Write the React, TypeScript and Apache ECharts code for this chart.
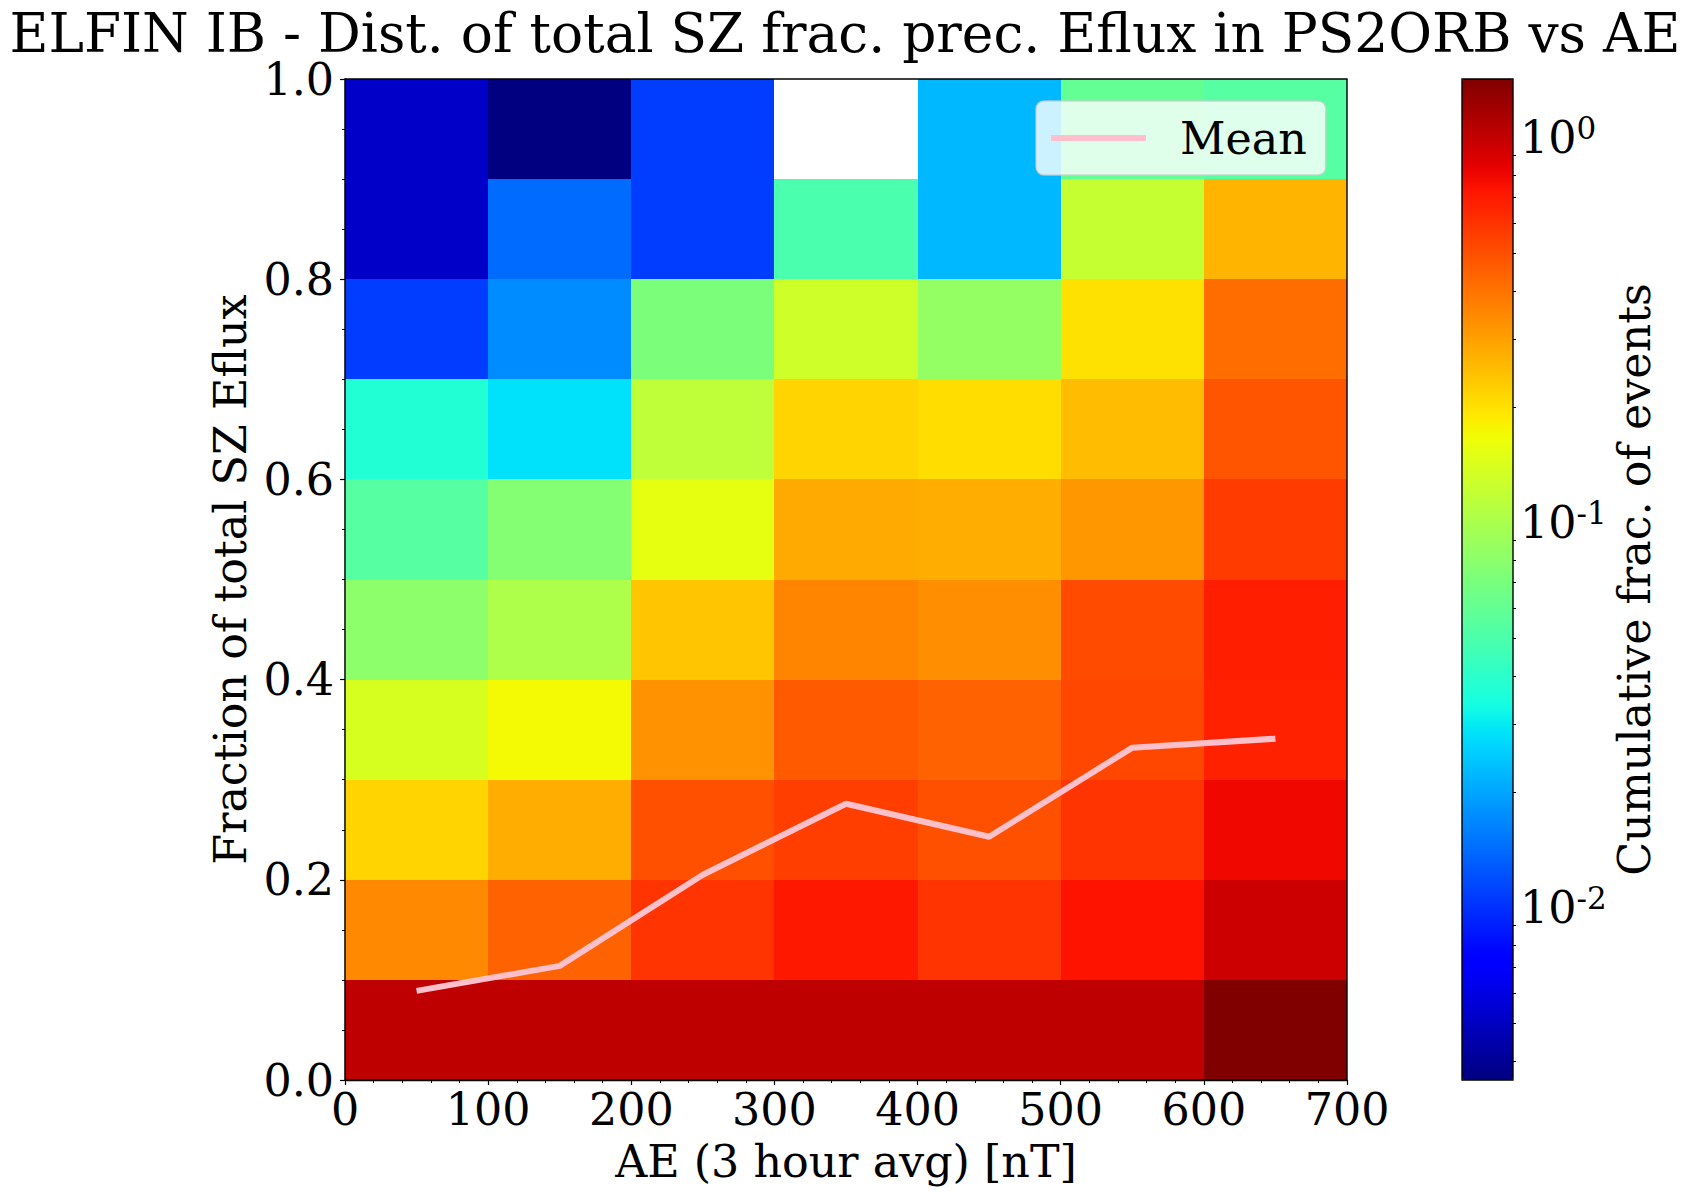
import React, { useRef, useEffect } from 'react'
import * as echarts from 'echarts'

const FONT = '"DejaVu Serif", serif'

// bin edges of the 2D histogram
const aeEdges = [0, 100, 200, 300, 400, 500, 600, 700]
const fracEdges = [0, 0.1, 0.2, 0.3, 0.4, 0.5, 0.6, 0.7, 0.8, 0.9, 1.0]

// cumulative fraction per AE bin, one array per fraction bin (null = no data)
const row00 = [1.03, 1.03, 1.03, 1.03, 1.03, 1.03, 1.42]
const row01 = [0.348, 0.443, 0.597, 0.714, 0.597, 0.736, 0.953]
const row02 = [0.216, 0.274, 0.499, 0.562, 0.499, 0.597, 0.796]
const row03 = [0.138, 0.17, 0.328, 0.47, 0.443, 0.53, 0.673]
const row04 = [0.0804, 0.102, 0.236, 0.359, 0.338, 0.514, 0.681]
const row05 = [0.0538, 0.0757, 0.155, 0.282, 0.274, 0.318, 0.569]
const row06 = [0.0369, 0.0282, 0.115, 0.216, 0.205, 0.251, 0.484]
const row07 = [0.01075, 0.01714, 0.0713, 0.13, 0.0853, 0.1995, 0.414]
const row08 = [0.0052, 0.01416, 0.01075, 0.0498, 0.0222, 0.122, 0.266]
const row09 = [0.0052, 0.00357, 0.01075, null, 0.0222, 0.0596, 0.0538]
const rows = [row00, row01, row02, row03, row04, row05, row06, row07, row08, row09]

// mean line
const meanAE = [50, 150, 250, 350, 450, 550, 650]
const meanFrac = [0.089, 0.114, 0.205, 0.276, 0.243, 0.332, 0.341]

// colorbar
const cbarMin = 0.00357
const cbarMax = 1.42
const cbarMajor = [0.01, 0.1, 1]
const cbarMinor = [
  0.004, 0.005, 0.006, 0.007, 0.008, 0.009,
  0.02, 0.03, 0.04, 0.05, 0.06, 0.07, 0.08, 0.09,
  0.2, 0.3, 0.4, 0.5, 0.6, 0.7, 0.8, 0.9,
]

// matplotlib jet segments
const seg = (t: number, pts: number[][]) => {
  for (let i = 1; i < pts.length; i++) {
    if (t <= pts[i][0]) {
      const [x0, y0] = pts[i - 1]
      const [x1, y1] = pts[i]
      return y0 + ((t - x0) / (x1 - x0)) * (y1 - y0)
    }
  }
  return pts[pts.length - 1][1]
}
const jet = (t: number) => {
  const r = seg(t, [[0, 0], [0.35, 0], [0.66, 1], [0.89, 1], [1, 0.5]])
  const g = seg(t, [[0, 0], [0.125, 0], [0.375, 1], [0.64, 1], [0.91, 0], [1, 0]])
  const b = seg(t, [[0, 0.5], [0.11, 1], [0.34, 1], [0.65, 0], [1, 0]])
  return `rgb(${Math.round(r * 255)},${Math.round(g * 255)},${Math.round(b * 255)})`
}
const jetColors = Array.from({ length: 129 }, (_, i) => jet(i / 128))

const App: React.FC = () => {
  const chartRef = useRef<HTMLDivElement>(null)

  useEffect(() => {
    if (!chartRef.current) return
    const chart = echarts.init(chartRef.current, undefined, { renderer: 'svg' })

    const cells: number[][] = []
    rows.forEach((row, j) => {
      row.forEach((v, i) => {
        if (v == null) return
        cells.push([aeEdges[i], aeEdges[i + 1], fracEdges[j], fracEdges[j + 1], v, Math.log10(v)])
      })
    })

    const logMin = Math.log10(cbarMin)
    const logMax = Math.log10(cbarMax)

    const option = {
      animation: false,
      backgroundColor: '#fff',
      textStyle: { fontFamily: FONT, color: '#000' },
      title: {
        text: 'ELFIN IB - Dist. of total SZ frac. prec. Eflux in PS2ORB vs AE',
        left: 840,
        top: 2,
        textAlign: 'center',
        textStyle: { fontFamily: FONT, fontSize: 53.4, fontWeight: 'normal', color: '#000' },
      },
      grid: [
        { left: 345, top: 79, width: 1002, height: 1001, outerBoundsMode: 'none', show: true, borderColor: '#000', borderWidth: 1.4, backgroundColor: 'transparent', z: 5 },
        { left: 1462, top: 79, width: 51, height: 1001, outerBoundsMode: 'none', show: true, borderColor: '#000', borderWidth: 1.4, backgroundColor: 'transparent', z: 5 },
      ],
      xAxis: [
        {
          type: 'value',
          gridIndex: 0,
          min: 0,
          max: 700,
          interval: 100,
          name: 'AE (3 hour avg) [nT]',
          nameLocation: 'middle',
          nameGap: 59,
          nameTextStyle: { fontFamily: FONT, fontSize: 44.4, color: '#000' },
          axisLine: { lineStyle: { color: '#000', width: 1.4 } },
          axisTick: { length: 5, lineStyle: { color: '#000', width: 1.2 } },
          minorTick: { show: true, splitNumber: 5, length: 3, lineStyle: { color: '#000', width: 1 } },
          axisLabel: { fontFamily: FONT, fontSize: 44.4, color: '#000', margin: 7 },
          splitLine: { show: false },
        },
        { type: 'value', gridIndex: 1, show: false, min: 0, max: 1 },
      ],
      yAxis: [
        {
          type: 'value',
          gridIndex: 0,
          min: 0,
          max: 1,
          interval: 0.2,
          name: 'Fraction of total SZ Eflux',
          nameLocation: 'middle',
          nameGap: 88,
          nameTextStyle: { fontFamily: FONT, fontSize: 44.4, color: '#000' },
          axisLine: { lineStyle: { color: '#000', width: 1.4 } },
          axisTick: { length: 5, lineStyle: { color: '#000', width: 1.2 } },
          minorTick: { show: true, splitNumber: 4, length: 3, lineStyle: { color: '#000', width: 1 } },
          axisLabel: { fontFamily: FONT, fontSize: 44.4, color: '#000', margin: 11, formatter: (v: number) => v.toFixed(1) },
          splitLine: { show: false },
        },
        {
          type: 'value',
          gridIndex: 1,
          position: 'right',
          min: logMin,
          max: logMax,
          name: 'Cumulative frac. of events',
          nameLocation: 'middle',
          nameRotate: 90,
          nameGap: 99,
          nameTextStyle: { fontFamily: FONT, fontSize: 44.4, color: '#000' },
          axisLine: { show: false },
          axisTick: { length: 5, lineStyle: { color: '#000', width: 1.2 }, customValues: cbarMajor.map(Math.log10) },
          axisLabel: {
            color: '#000',
            margin: 7,
            customValues: cbarMajor.map(Math.log10),
            formatter: (v: number) => `{b|10}{s|${Math.round(v) === 0 ? '0' : Math.round(v)}}`,
            rich: {
              b: { fontFamily: FONT, fontSize: 44.4, color: '#000' },
              s: { fontFamily: FONT, fontSize: 31, color: '#000', padding: [0, 0, 20, 0] },
            },
          },
          splitLine: { show: false },
        },
        {
          type: 'value',
          gridIndex: 1,
          position: 'right',
          min: logMin,
          max: logMax,
          axisLine: { show: false },
          axisTick: { length: 3, lineStyle: { color: '#000', width: 1 }, customValues: cbarMinor.map(Math.log10) },
          axisLabel: { show: false },
          splitLine: { show: false },
        },
      ],
      visualMap: {
        type: 'continuous',
        show: true,
        seriesIndex: 0,
        dimension: 5,
        min: logMin,
        max: logMax,
        left: 1462,
        top: 79,
        padding: 0,
        itemWidth: 51,
        itemHeight: 1001,
        calculable: false,
        hoverLink: false,
        silent: true,
        text: null,
        showLabel: false,
        inRange: { color: jetColors },
        z: 1,
      },
      legend: {
        left: 1036,
        top: 101,
        data: ['Mean'],
        icon: 'rect',
        itemWidth: 95,
        itemHeight: 6,
        padding: [15, 19, 15, 15],
        backgroundColor: 'rgba(255,255,255,0.8)',
        borderColor: 'rgba(204,204,204,0.8)',
        borderWidth: 1.4,
        borderRadius: 8,
        selectedMode: false,
        textStyle: { fontFamily: FONT, fontSize: 44.4, color: '#000', padding: [0, 0, 0, 29] },
      },
      series: [
        {
          type: 'custom',
          xAxisIndex: 0,
          yAxisIndex: 0,
          encode: { x: [0, 1], y: [2, 3] },
          data: cells,
          renderItem: (_params: any, api: any) => {
            const p0 = api.coord([api.value(0), api.value(2)])
            const p1 = api.coord([api.value(1), api.value(3)])
            const x0 = Math.round(p0[0])
            const x1 = Math.round(p1[0])
            const y0 = Math.round(p0[1])
            const y1 = Math.round(p1[1])
            return {
              type: 'rect',
              shape: { x: x0, y: y1, width: x1 - x0, height: y0 - y1 },
              style: { fill: api.visual('color') },
            }
          },
        },
        {
          name: 'Mean',
          type: 'line',
          xAxisIndex: 0,
          yAxisIndex: 0,
          data: meanAE.map((x, i) => [x, meanFrac[i]]),
          showSymbol: false,
          symbol: 'none',
          itemStyle: { color: '#ffc0cb' },
          lineStyle: { color: '#ffc0cb', width: 6, cap: 'butt' },
          z: 3,
        },
      ],
    }

    chart.setOption(option as any)

    return () => {
      chart.dispose()
    }
  }, [])

  return <div ref={chartRef} style={{ position: 'absolute', left: 0, top: 0, width: 1690, height: 1192 }} />
}

export default App
